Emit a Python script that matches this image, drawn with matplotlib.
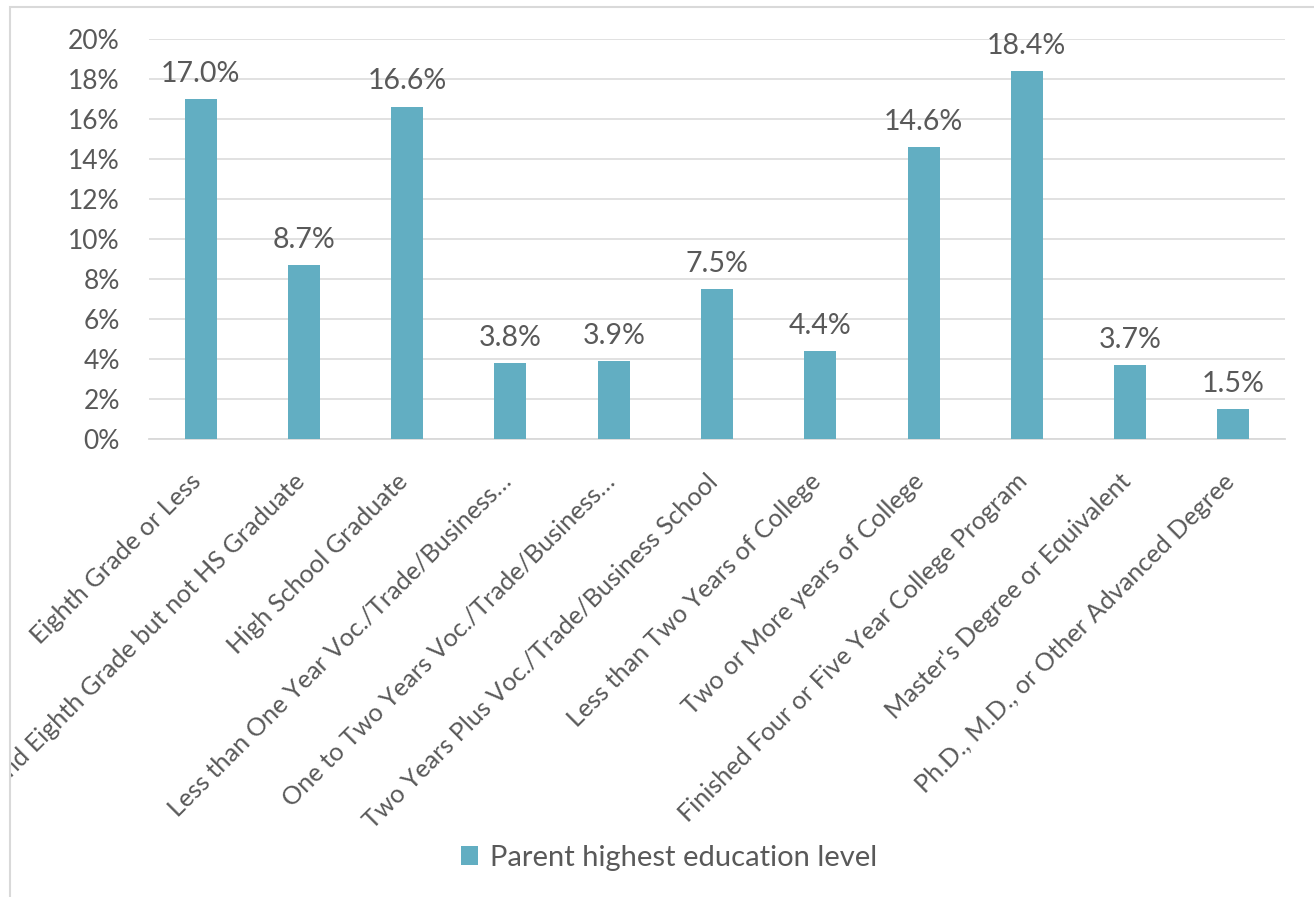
import matplotlib.pyplot as plt
from matplotlib.patches import Rectangle
from matplotlib.ticker import PercentFormatter

plt.rcParams['font.family'] = ['Lato', 'DejaVu Sans']

# Data
categories = [
    "Eighth Grade or Less",
    "Beyond Eighth Grade but not HS Graduate",
    "High School Graduate",
    "Less than One Year Voc./Trade/Business\u2026",
    "One to Two Years Voc./Trade/Business\u2026",
    "Two Years Plus Voc./Trade/Business School",
    "Less than Two Years of College",
    "Two or More years of College",
    "Finished Four or Five Year College Program",
    "Master's Degree or Equivalent",
    "Ph.D., M.D., or Other Advanced Degree",
]
shares = [17.0, 8.7, 16.6, 3.8, 3.9, 7.5, 4.4, 14.6, 18.4, 3.7, 1.5]
series_name = "Parent highest education level"

bar_color = '#62AEC2'
text_color = '#595959'
grid_color = '#D9D9D9'

W, H = 1314, 897
fig = plt.figure(figsize=(W / 100, H / 100), dpi=100)

# light outer frame of the chart area
frame = Rectangle((10 / W, -0.02), 1.1, 1 - 7 / H + 0.02,
                  transform=fig.transFigure, fill=False,
                  edgecolor=grid_color, linewidth=1.5)
fig.patches.append(frame)

ax = fig.add_axes([149 / W, 1 - 439 / H, (1285 - 149) / W, 400 / H])
x = range(len(categories))
ax.bar(x, shares, width=0.31, color=bar_color, label=series_name, zorder=3)

for xi, v in zip(x, shares):
    ax.annotate(f"{v:.1f}%", (xi, v), xytext=(0, 9), textcoords='offset points',
                ha='center', va='bottom', fontsize=20.5, color=text_color)

ax.set_xlim(-0.5, len(categories) - 0.5)
ax.set_ylim(0, 20)
ax.set_yticks(range(0, 21, 2))
ax.yaxis.set_major_formatter(PercentFormatter(decimals=0))
ax.grid(axis='y', color=grid_color, linewidth=1.1, zorder=0)
for s in ['top', 'right', 'left']:
    ax.spines[s].set_visible(False)
ax.spines['bottom'].set_color(grid_color)
ax.spines['bottom'].set_linewidth(1.3)
ax.tick_params(axis='y', length=0, pad=21, labelsize=19, labelcolor=text_color)
ax.tick_params(axis='x', length=0)
ax.set_xticks(list(x))
ax.set_xticklabels([])

# rotated category labels, clipped by the chart frame like the original
for xi, name in zip(x, categories):
    t = ax.annotate(name, (xi, 0), xytext=(-8, -22), textcoords='offset points',
                    rotation=45, rotation_mode='anchor', ha='right', va='top',
                    fontsize=18.2, color=text_color, annotation_clip=False)
    t.set_clip_path(frame)

fig.legend(loc='center', bbox_to_anchor=(0.509, 1 - 858 / H), frameon=False,
           fontsize=21, labelcolor=text_color, handlelength=0.6, handleheight=0.6,
           handletextpad=0.4)

fig.savefig('out.png', dpi=100)
